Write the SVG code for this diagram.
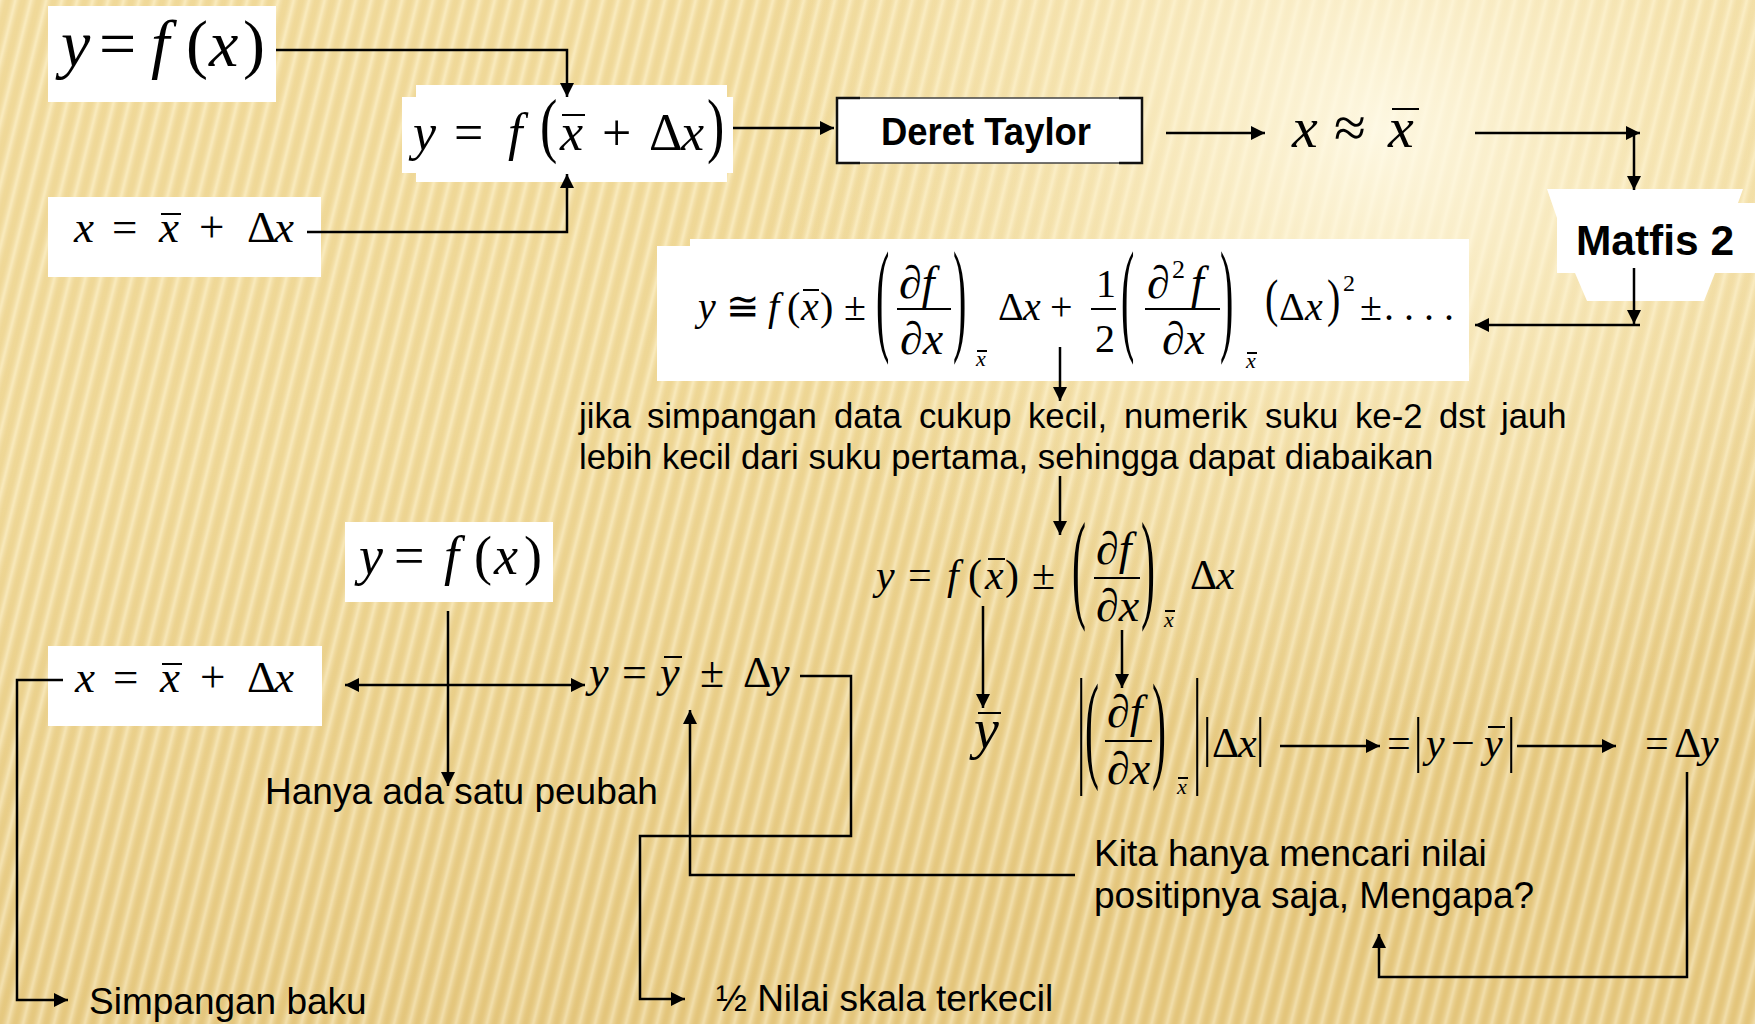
<svg xmlns="http://www.w3.org/2000/svg" width="1755" height="1024" viewBox="0 0 1755 1024">
<defs>
<style>
.m{font-family:"Liberation Serif","Times New Roman","DejaVu Serif",serif;font-style:italic;fill:#000}
.s{font-family:"Liberation Serif","Times New Roman","DejaVu Serif",serif;font-style:normal}
.t{font-family:"Liberation Sans",Arial,sans-serif;fill:#000}
.b{font-family:"Liberation Sans",Arial,sans-serif;font-weight:bold;fill:#000}
.c{stroke:#000;stroke-width:2.5;fill:none}
.bar{stroke:#000;stroke-width:2}
.fr{stroke:#000;stroke-width:2}
.box{fill:#fff}
</style>
<linearGradient id="bg" x1="0" y1="0" x2="0.3" y2="1">
<stop offset="0" stop-color="#F8E4A8"/>
<stop offset="0.45" stop-color="#F6E1A3"/>
<stop offset="1" stop-color="#E9CC84"/>
</linearGradient>
<radialGradient id="glow" cx="1380" cy="130" r="620" gradientUnits="userSpaceOnUse">
<stop offset="0" stop-color="#FFFBEA" stop-opacity="0.9"/>
<stop offset="0.5" stop-color="#FFF6D8" stop-opacity="0.35"/>
<stop offset="1" stop-color="#FFF6D8" stop-opacity="0"/>
</radialGradient>
<linearGradient id="sg" x1="0" y1="0" x2="1" y2="0">
<stop offset="0" stop-color="#FFF8E0" stop-opacity="0.45"/>
<stop offset="0.5" stop-color="#C9A24A" stop-opacity="0.16"/>
<stop offset="1" stop-color="#FFF8E0" stop-opacity="0.45"/>
</linearGradient>
<pattern id="stripes" width="15" height="40" patternUnits="userSpaceOnUse" patternTransform="rotate(14)">
<rect width="15" height="40" fill="url(#sg)"/>
</pattern>
<marker id="ah" viewBox="0 0 10 10" refX="10" refY="5" markerWidth="16" markerHeight="14" markerUnits="userSpaceOnUse" orient="auto-start-reverse">
<path d="M0,0 L10,5 L0,10 z" fill="#000"/>
</marker>
</defs>

<g id="background">
<rect width="1755" height="1024" fill="url(#bg)"/>
<rect width="1755" height="1024" fill="url(#stripes)"/>
<rect width="1755" height="1024" fill="url(#glow)"/>
</g>

<g id="node-yfx-top">
<rect class="box" x="48" y="6" width="228" height="96"/>
<text class="m" font-size="66" y="66"><tspan x="61">y</tspan><tspan class="s" x="99">=</tspan><tspan x="151">f</tspan><tspan class="s" x="186">(</tspan><tspan x="209">x</tspan><tspan class="s" x="243">)</tspan></text>
</g>

<g id="node-yfxbar">
<rect class="box" x="402" y="97" width="331" height="76"/>
<rect class="box" x="416" y="85" width="311" height="97"/>
<text class="m" font-size="52" y="150"><tspan x="413">y</tspan><tspan class="s" x="454">=</tspan><tspan x="508">f</tspan><tspan x="560">x</tspan><tspan class="s" x="602">+</tspan><tspan class="s" x="649">Δ</tspan><tspan x="681">x</tspan></text>
<text class="s" font-size="52" transform="translate(540,148.5) scale(1,1.4)">(</text>
<text class="s" font-size="52" transform="translate(707,148.5) scale(1,1.4)">)</text>
<line class="bar" x1="562" y1="115" x2="585" y2="115"/>
</g>

<g id="node-xdef-top">
<rect class="box" x="48" y="197" width="273" height="80"/>
<text class="m" font-size="45" y="242"><tspan x="74">x</tspan><tspan class="s" x="112">=</tspan><tspan x="159">x</tspan><tspan class="s" x="199">+</tspan><tspan class="s" x="247">Δ</tspan><tspan x="274">x</tspan></text>
<line class="bar" x1="161" y1="214" x2="181" y2="214"/>
</g>

<g id="node-deret">
<rect x="837" y="98" width="305" height="65" fill="#fff" stroke="#444" stroke-width="1.5"/>
<path d="M860,98 H837 V163 H860 M1119,98 H1142 V163 H1119" fill="none" stroke="#111" stroke-width="2.5"/>
<text class="b" font-size="38" x="881" y="145" textLength="210" lengthAdjust="spacingAndGlyphs">Deret Taylor</text>
</g>

<g id="node-approx">
<text class="m" font-size="58" y="147"><tspan x="1292">x</tspan><tspan class="s" x="1334">≈</tspan><tspan x="1388">x</tspan></text>
<line class="bar" x1="1392" y1="109" x2="1419" y2="109"/>
</g>

<g id="node-matfis">
<polygon class="box" points="1547,189 1743,189 1738,203 1755,203 1755,273 1715,273 1704,301 1587,301 1575,273 1557,273 1557,218"/>
<text class="b" font-size="43" x="1576" y="255" textLength="158" lengthAdjust="spacingAndGlyphs">Matfis 2</text>
</g>

<g id="node-taylor">
<rect class="box" x="657" y="246" width="812" height="135"/>
<rect class="box" x="690" y="239" width="779" height="20"/>
<text class="m" font-size="40" y="320"><tspan x="698">y</tspan><tspan class="s" x="726">≅</tspan><tspan x="768">f</tspan><tspan class="s" x="787">(</tspan><tspan x="801">x</tspan><tspan class="s" x="820">)</tspan><tspan class="s" x="844">±</tspan><tspan class="s" x="998">Δ</tspan><tspan x="1023">x</tspan><tspan class="s" x="1050">+</tspan><tspan class="s" x="1279">Δ</tspan><tspan x="1305">x</tspan><tspan class="s" x="1360">±</tspan><tspan class="s" x="1384">. . . .</tspan></text>
<text class="s" font-size="40" transform="translate(1265,316) scale(1,1.3)">(</text>
<text class="s" font-size="40" transform="translate(1327,316) scale(1,1.3)">)</text>
<line class="bar" x1="803" y1="290" x2="819" y2="290"/>
<text class="s" font-size="40" transform="translate(876,338) scale(1,3.12)">(</text>
<text class="m" font-size="46" x="899" y="298">∂f</text>
<line class="fr" x1="897" y1="309" x2="951" y2="309"/>
<text class="m" font-size="46" x="900" y="354">∂x</text>
<text class="s" font-size="40" transform="translate(953,338) scale(1,3.12)">)</text>
<text class="m" font-size="22" x="976" y="366">x</text>
<line class="bar" x1="977" y1="351" x2="987" y2="351" stroke-width="1.5"/>
<text class="s" font-size="40" x="1096" y="297">1</text>
<line class="fr" x1="1091" y1="309" x2="1116" y2="309"/>
<text class="s" font-size="40" x="1095" y="352">2</text>
<text class="s" font-size="40" transform="translate(1121,338) scale(1,3.12)">(</text>
<text class="m" font-size="46" x="1147" y="298">∂</text>
<text class="s" font-size="26" x="1172" y="278">2</text>
<text class="m" font-size="46" x="1191" y="298">f</text>
<line class="fr" x1="1145" y1="309" x2="1220" y2="309"/>
<text class="m" font-size="46" x="1162" y="354">∂x</text>
<text class="s" font-size="40" transform="translate(1220,338) scale(1,3.12)">)</text>
<text class="m" font-size="22" x="1246" y="368">x</text>
<line class="bar" x1="1247" y1="353" x2="1257" y2="353" stroke-width="1.5"/>
<text class="s" font-size="24" x="1343" y="291">2</text>
</g>

<g id="node-paragraph">
<text class="t" font-size="34.7" y="428"><tspan x="579">jika</tspan><tspan x="647">simpangan</tspan><tspan x="834">data</tspan><tspan x="919">cukup</tspan><tspan x="1028">kecil,</tspan><tspan x="1124">numerik</tspan><tspan x="1265">suku</tspan><tspan x="1355">ke-2</tspan><tspan x="1439">dst</tspan><tspan x="1501">jauh</tspan></text>
<text class="t" font-size="34.7" x="579" y="469">lebih kecil dari suku pertama, sehingga dapat diabaikan</text>
</g>

<g id="node-eq2">
<text class="m" font-size="42" y="589"><tspan x="876">y</tspan><tspan class="s" x="908">=</tspan><tspan x="947">f</tspan><tspan class="s" x="968">(</tspan><tspan x="985">x</tspan><tspan class="s" x="1005">)</tspan><tspan class="s" x="1032">±</tspan><tspan class="s" x="1190">Δ</tspan><tspan x="1216">x</tspan></text>
<line class="bar" x1="988" y1="559" x2="1005" y2="559"/>
<text class="s" font-size="42" transform="translate(1072,606) scale(1,2.85)">(</text>
<text class="m" font-size="46" x="1096" y="564">∂f</text>
<line class="fr" x1="1094" y1="578" x2="1140" y2="578"/>
<text class="m" font-size="46" x="1096" y="621">∂x</text>
<text class="s" font-size="42" transform="translate(1141,606) scale(1,2.85)">)</text>
<text class="m" font-size="22" x="1164" y="627">x</text>
<line class="bar" x1="1165" y1="611" x2="1175" y2="611" stroke-width="1.5"/>
</g>

<g id="node-ybar">
<text class="m" font-size="56" x="974" y="748">y</text>
<line class="bar" x1="978" y1="713" x2="1001" y2="713" stroke-width="2.5"/>
</g>

<g id="node-abs">
<text class="s" font-size="42" transform="translate(1077,768) scale(1,3.09)">|</text>
<text class="s" font-size="42" transform="translate(1085,766) scale(1,2.8)">(</text>
<text class="m" font-size="46" x="1107" y="727">∂f</text>
<line class="fr" x1="1105" y1="741" x2="1152" y2="741"/>
<text class="m" font-size="46" x="1107" y="784">∂x</text>
<text class="s" font-size="42" transform="translate(1152,766) scale(1,2.8)">)</text>
<text class="m" font-size="22" x="1177" y="794">x</text>
<line class="bar" x1="1178" y1="778" x2="1188" y2="778" stroke-width="1.5"/>
<text class="s" font-size="42" transform="translate(1193,768) scale(1,3.09)">|</text>
<text class="s" font-size="42" transform="translate(1203,755) scale(1,1.33)">|</text>
<text class="m" font-size="42" y="757"><tspan class="s" x="1212">Δ</tspan><tspan x="1238">x</tspan></text>
<text class="s" font-size="42" transform="translate(1256,755) scale(1,1.33)">|</text>
</g>

<g id="node-absy">
<text class="s" font-size="42" x="1387" y="757">=</text>
<text class="s" font-size="42" transform="translate(1414,760) scale(1,1.45)">|</text>
<text class="m" font-size="42" y="757"><tspan x="1426">y</tspan><tspan class="s" x="1451">−</tspan><tspan x="1484">y</tspan></text>
<line class="bar" x1="1488" y1="727" x2="1505" y2="727"/>
<text class="s" font-size="42" transform="translate(1507,760) scale(1,1.45)">|</text>
</g>

<g id="node-dy">
<text class="m" font-size="42" y="757"><tspan class="s" x="1645">=</tspan><tspan class="s" x="1674">Δ</tspan><tspan x="1700">y</tspan></text>
</g>

<g id="node-kita">
<text class="t" font-size="37" x="1094" y="866">Kita hanya mencari nilai</text>
<text class="t" font-size="37" x="1094" y="908">positipnya saja, Mengapa?</text>
</g>

<g id="node-yfx-low">
<rect class="box" x="345" y="522" width="208" height="80"/>
<text class="m" font-size="54" y="574"><tspan x="359">y</tspan><tspan class="s" x="394">=</tspan><tspan x="444">f</tspan><tspan class="s" x="474">(</tspan><tspan x="494">x</tspan><tspan class="s" x="524">)</tspan></text>
</g>

<g id="node-xdef-low">
<rect class="box" x="48" y="646" width="274" height="80"/>
<text class="m" font-size="45" y="692"><tspan x="75">x</tspan><tspan class="s" x="113">=</tspan><tspan x="160">x</tspan><tspan class="s" x="200">+</tspan><tspan class="s" x="247">Δ</tspan><tspan x="274">x</tspan></text>
<line class="bar" x1="162" y1="664" x2="182" y2="664"/>
</g>

<g id="node-ydef">
<text class="m" font-size="44" y="687"><tspan x="589">y</tspan><tspan class="s" x="622">=</tspan><tspan x="660">y</tspan><tspan class="s" x="700">±</tspan><tspan class="s" x="743">Δ</tspan><tspan x="770">y</tspan></text>
<line class="bar" x1="664" y1="657" x2="682" y2="657"/>
</g>

<g id="node-hanya">
<text class="t" font-size="37" x="265" y="804">Hanya ada satu peubah</text>
</g>

<g id="node-simpangan">
<text class="t" font-size="37" x="89" y="1014">Simpangan baku</text>
</g>

<g id="node-nilai">
<text class="t" font-size="37" x="716" y="1011">½ Nilai skala terkecil</text>
</g>

<g id="connectors">
<polyline class="c" points="276,50 567,50 567,97" marker-end="url(#ah)"/>
<polyline class="c" points="307,232 567,232 567,174" marker-end="url(#ah)"/>
<line class="c" x1="733" y1="128" x2="834" y2="128" marker-end="url(#ah)"/>
<line class="c" x1="1166" y1="133" x2="1265" y2="133" marker-end="url(#ah)"/>
<line class="c" x1="1475" y1="133" x2="1640" y2="133" marker-end="url(#ah)"/>
<line class="c" x1="1634" y1="133" x2="1634" y2="190" marker-end="url(#ah)"/>
<line class="c" x1="1634" y1="268" x2="1634" y2="324" marker-end="url(#ah)"/>
<line class="c" x1="1640" y1="325" x2="1475" y2="325" marker-end="url(#ah)"/>
<line class="c" x1="1060" y1="347" x2="1060" y2="401" marker-end="url(#ah)"/>
<line class="c" x1="1060" y1="476" x2="1060" y2="535" marker-end="url(#ah)"/>
<line class="c" x1="983" y1="606" x2="983" y2="708" marker-end="url(#ah)"/>
<line class="c" x1="1122" y1="630" x2="1122" y2="688" marker-end="url(#ah)"/>
<line class="c" x1="1280" y1="746" x2="1380" y2="746" marker-end="url(#ah)"/>
<line class="c" x1="1517" y1="746" x2="1616" y2="746" marker-end="url(#ah)"/>
<polyline class="c" points="1687,772 1687,977 1379,977 1379,934" marker-end="url(#ah)"/>
<polyline class="c" points="1075,875 690,875 690,710" marker-end="url(#ah)"/>
<polyline class="c" points="800,676 851,676 851,836 640,836 640,999 685,999" marker-end="url(#ah)"/>
<polyline class="c" points="63,680 17,680 17,1000 68,1000" marker-end="url(#ah)"/>
<line class="c" x1="345" y1="685" x2="585" y2="685" marker-start="url(#ah)" marker-end="url(#ah)"/>
<line class="c" x1="448" y1="611" x2="448" y2="786" marker-end="url(#ah)"/>
</g>
</svg>
